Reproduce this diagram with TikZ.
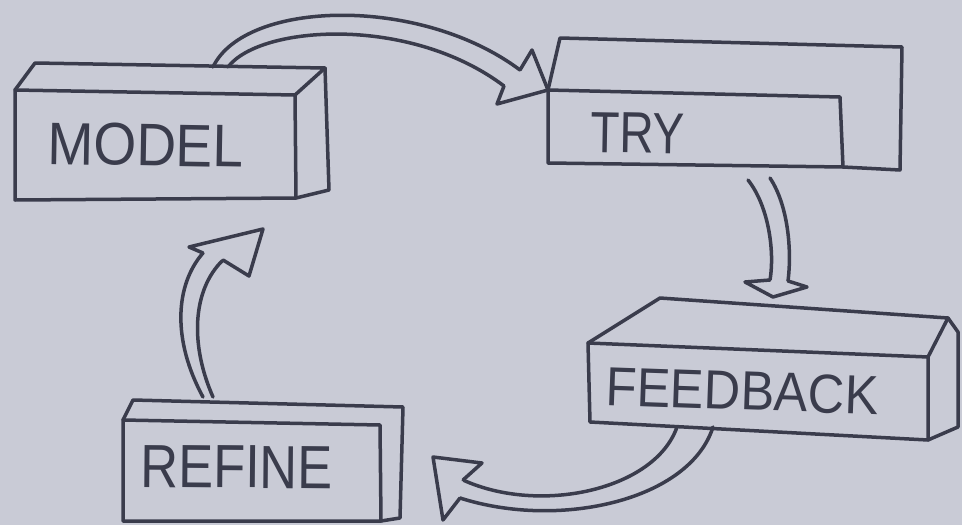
\documentclass[tikz,border=0pt]{standalone}
\usepackage{tikz}
\usepackage{fontspec}
\setsansfont{Liberation Sans}
\definecolor{bg}{RGB}{201,203,214}
\definecolor{ink}{RGB}{58,60,76}
\tikzset{
  ink/.style={draw=ink, line width=3.5pt, line join=round, line cap=round},
  head/.style={ink, fill=bg},
  lbl/.style={inner sep=0pt, text=ink, font=\sffamily},
}
\begin{document}
\begin{tikzpicture}[x=1pt,y=-1pt]
\fill[bg] (0,0) rectangle (962,525);
\useasboundingbox (0,0) rectangle (962,525);

% ---------- MODEL box ----------
\coordinate (m1) at (15,90);   \coordinate (m2) at (295,95);
\coordinate (m3) at (296,198); \coordinate (m4) at (15,200);
\coordinate (m5) at (35,63);   \coordinate (m6) at (325,68);
\coordinate (m7) at (329,190);
\draw[ink] (m1) -- (m2) -- (m3) -- (m4) -- cycle;
\draw[ink] (m1) -- (m5) -- (m6) -- (m2);
\draw[ink] (m6) -- (m7) -- (m3);
\node[lbl, anchor=base west, rotate=-1, font=\sffamily\fontsize{60}{60}\selectfont, xscale=.92] (model) at (47,164) {MODEL};

% ---------- TRY box ----------
\coordinate (t1) at (548,90);  \coordinate (t2) at (840,97);
\coordinate (t3) at (843,167); \coordinate (t4) at (548,163);
\coordinate (t5) at (560,38);  \coordinate (t6) at (902,47);
\coordinate (t7) at (900,170);
\draw[ink] (t1) -- (t2) -- (t3) -- (t4) -- cycle;
\draw[ink] (t1) -- (t5) -- (t6) -- (t7) -- (t3);
\node[lbl, anchor=base west, rotate=-1, font=\sffamily\fontsize{58}{58}\selectfont, xscale=.82] (try) at (590,152) {TRY};

% ---------- FEEDBACK box ----------
\coordinate (f1) at (588,343); \coordinate (f2) at (928,357);
\coordinate (f3) at (928,440); \coordinate (f4) at (590,422);
\coordinate (f5) at (660,298); \coordinate (f6) at (948,318);
\coordinate (f7) at (958,332); \coordinate (f8) at (958,427);
\draw[ink] (f1) -- (f2) -- (f3) -- (f4) -- cycle;
\draw[ink] (f1) -- (f5) -- (f6) -- (f2);
\draw[ink] (f6) -- (f7) -- (f8) -- (f3);
\node[lbl, anchor=base west, rotate=-2, font=\sffamily\fontsize{55}{55}\selectfont, xscale=.92] (feedback) at (605,405) {FEEDBACK};

% ---------- REFINE box ----------
\coordinate (r1) at (123,420); \coordinate (r2) at (380,425);
\coordinate (r3) at (381,521); \coordinate (r4) at (123,521);
\coordinate (r5) at (133,400); \coordinate (r6) at (403,407);
\coordinate (r7) at (400,518);
\draw[ink] (r1) -- (r2) -- (r3) -- (r4) -- cycle;
\draw[ink] (r1) -- (r5) -- (r6) -- (r7) -- (r3);
\node[lbl, anchor=base west, rotate=-0.5, font=\sffamily\fontsize{61}{61}\selectfont, xscale=.86] (refine) at (140,487) {REFINE};

% ---------- arrow MODEL -> TRY ----------
\coordinate (a1o) at (213,67); \coordinate (a1i) at (228,67);
\coordinate (a1ja) at (520,70); \coordinate (a1jb) at (504,86);
\coordinate (a1ba) at (532,50); \coordinate (a1bb) at (497,104);
\draw[ink] (a1o) .. controls (245,0) and (420,-5) .. (a1ja);
\draw[ink] (a1i) .. controls (260,25) and (410,15) .. (a1jb);
\path[head] (a1ja) -- (a1ba) -- (t1) -- (a1bb) -- (a1jb);

% ---------- arrow TRY -> FEEDBACK ----------
\coordinate (a2o) at (748,180); \coordinate (a2i) at (770,178);
\coordinate (a2ja) at (770,280); \coordinate (a2jb) at (788,281);
\coordinate (a2ba) at (745,282); \coordinate (a2bb) at (807,287);
\coordinate (a2tip) at (773,297);
\draw[ink] (a2o) .. controls (768,205) and (775,250) .. (a2ja);
\draw[ink] (a2i) .. controls (788,205) and (792,250) .. (a2jb);
\path[head] (a2ja) -- (a2ba) -- (a2tip) -- (a2bb) -- (a2jb);

% ---------- arrow FEEDBACK -> REFINE ----------
\coordinate (a3o) at (677,427); \coordinate (a3i) at (713,427);
\coordinate (a3ja) at (463,480); \coordinate (a3jb) at (460,498);
\coordinate (a3ba) at (482,463); \coordinate (a3bb) at (443,520);
\coordinate (a3tip) at (433,457);
\draw[ink] (a3o) .. controls (655,490) and (540,515) .. (a3ja);
\draw[ink] (a3i) .. controls (690,500) and (560,530) .. (a3jb);
\path[head] (a3ja) -- (a3ba) -- (a3tip) -- (a3bb) -- (a3jb);

% ---------- arrow REFINE -> MODEL ----------
\coordinate (a4o) at (203,397); \coordinate (a4i) at (213,397);
\coordinate (a4ja) at (203,253); \coordinate (a4jb) at (223,260);
\coordinate (a4ba) at (189,247); \coordinate (a4bb) at (249,276);
\coordinate (a4tip) at (263,229);
\draw[ink] (a4o) .. controls (172,340) and (175,285) .. (a4ja);
\draw[ink] (a4i) .. controls (190,345) and (192,290) .. (a4jb);
\path[head] (a4ja) -- (a4ba) -- (a4tip) -- (a4bb) -- (a4jb);
\end{tikzpicture}
\end{document}
